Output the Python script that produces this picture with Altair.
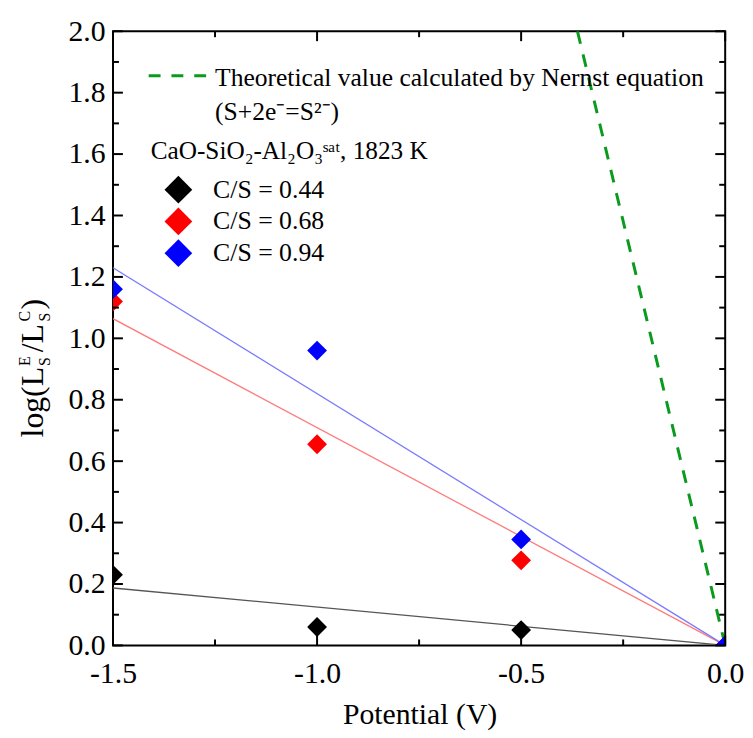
import altair as alt
import pandas as pd

# ---------------- data ----------------
potential = [-1.5, -1.0, -0.5, 0.0]
cs_044 = [0.23, 0.06, 0.05, 0.0]
cs_068 = [1.12, 0.655, 0.277, 0.0]
cs_094 = [1.16, 0.96, 0.345, 0.0]

fit_potential = [-1.5, 0.0]
fit_044 = [0.187, 0.0]
fit_068 = [1.064, 0.0]
fit_094 = [1.23, 0.0]

nernst_potential = [-0.362, 0.0]
nernst_value = [2.0, 0.0]

series_labels = ["C/S = 0.44", "C/S = 0.68", "C/S = 0.94"]
series_colors = ["#000000", "#ff0000", "#0000ff"]
fit_colors = ["#555555", "#ff7a7a", "#7a7aff"]

x_major = [-1.5, -1.0, -0.5, 0.0]
x_minor = [-1.25, -0.75, -0.25]
y_major = [0.0, 0.2, 0.4, 0.6, 0.8, 1.0, 1.2, 1.4, 1.6, 1.8, 2.0]
y_minor = [0.1, 0.3, 0.5, 0.7, 0.9, 1.1, 1.3, 1.5, 1.7, 1.9]

legend_title = "Theoretical value calculated by Nernst equation"
legend_reaction = "(S+2e\u207b=S\u00b2\u207b)"
legend_system = "CaO-SiO\u2082-Al\u2082O\u2083\u02e2\u1d43\u1d57, 1823 K"
x_title = "Potential (V)"

# ---------------- layout ----------------
FONT = "Liberation Serif"
W, H = 618, 620

xs = alt.Scale(domain=[-1.5, 0.0], nice=False, zero=False)
ys = alt.Scale(domain=[0.0, 2.0], nice=False, zero=False)

dummy = pd.DataFrame({"d": [0]})

x_axis = alt.Axis(values=x_major, format=".1f",
                  labelExpr="replace(datum.label, '\u2212', '-')",
                  labelFont=FONT, labelFontSize=30, labelColor="black",
                  labelPadding=13, ticks=False, domain=False, grid=False,
                  title=None, labelFlush=False, labelOverlap=False)
y_axis = alt.Axis(values=y_major, format=".1f",
                  labelFont=FONT, labelFontSize=30, labelColor="black",
                  labelPadding=8, ticks=False, domain=False, grid=False,
                  title=None, labelFlush=False, labelOverlap=False)


def X(field):
    return alt.X(field, scale=xs, axis=x_axis)


def Y(field):
    return alt.Y(field, scale=ys, axis=y_axis)


layers = []

# fitted lines
for fx, fy, col in [(fit_potential, fit_044, fit_colors[0]),
                    (fit_potential, fit_068, fit_colors[1]),
                    (fit_potential, fit_094, fit_colors[2])]:
    df = pd.DataFrame({"x": fx, "y": fy})
    layers.append(alt.Chart(df).mark_line(color=col, strokeWidth=1.3, clip=True).encode(
        x=X("x:Q"), y=Y("y:Q")))

# Nernst line
nd = pd.DataFrame({"x": nernst_potential, "y": nernst_value})
layers.append(alt.Chart(nd).mark_line(color="#0a9a1e", strokeWidth=3, strokeDash=[13, 11],
                                      clip=True).encode(x=X("x:Q"), y=Y("y:Q")))

# data points
for vals, col in [(cs_044, series_colors[0]), (cs_068, series_colors[1]), (cs_094, series_colors[2])]:
    df = pd.DataFrame({"x": potential, "y": vals})
    layers.append(alt.Chart(df).mark_point(shape="diamond", filled=True, size=400, opacity=1,
                                           color=col, clip=True).encode(x=X("x:Q"), y=Y("y:Q")))


# inward ticks (all four sides)
def ticks(vals, length, orient):
    df = pd.DataFrame({"v": vals})
    m = alt.Chart(df).mark_rule(color="black", strokeWidth=2)
    if orient == "bottom":
        return m.encode(x=X("v:Q"), y=alt.value(H), y2=alt.value(H - length))
    if orient == "top":
        return m.encode(x=X("v:Q"), y=alt.value(0), y2=alt.value(length))
    if orient == "left":
        return m.encode(y=Y("v:Q"), x=alt.value(0), x2=alt.value(length))
    return m.encode(y=Y("v:Q"), x=alt.value(W), x2=alt.value(W - length))


for o in ["bottom", "top"]:
    layers.append(ticks(x_major, 10, o))
    layers.append(ticks(x_minor, 6, o))
for o in ["left", "right"]:
    layers.append(ticks(y_major, 10, o))
    layers.append(ticks(y_minor, 6, o))


def text(txt, x, y, size, angle=0, align="left", baseline="alphabetic"):
    return alt.Chart(dummy).mark_text(text=txt, font=FONT, fontSize=size, angle=angle,
                                      align=align, baseline=baseline, color="black").encode(
        x=alt.value(x), y=alt.value(y))


# legend
layers.append(alt.Chart(dummy).mark_rule(color="#0a9a1e", strokeWidth=3, strokeDash=[12, 11]).encode(
    x=alt.value(36), x2=alt.value(94), y=alt.value(45)))
layers.append(text(legend_title, 103, 55, 25.8))
layers.append(text(legend_reaction, 103, 90, 25.8))
layers.append(text(legend_system, 38, 129, 25.5))
for i, (lab, col) in enumerate(zip(series_labels, series_colors)):
    yy = 160 + 32 * i
    layers.append(alt.Chart(dummy).mark_point(shape="diamond", filled=True, size=784, opacity=1,
                                              color=col).encode(x=alt.value(66), y=alt.value(yy)))
    layers.append(text(lab, 101, yy, 26, baseline="middle"))

# axis titles
layers.append(text(x_title, 310, 699, 30, align="center"))
layers.append(text("log(L", -71, 410, 32, angle=270))
layers.append(text("S", -64, 338, 16, angle=270))
layers.append(text("E", -84, 338, 16, angle=270))
layers.append(text("/L", -71, 324, 32, angle=270))
layers.append(text("S", -64, 293, 16, angle=270))
layers.append(text("C", -84, 293, 16, angle=270))
layers.append(text(")", -71, 281, 32, angle=270))

chart = alt.layer(*layers).properties(
    width=W, height=H,
    padding={"left": 106, "top": 20, "right": 20, "bottom": 90},
    autosize=alt.AutoSizeParams(type="none"),
    background="white",
).configure_view(stroke="black", strokeWidth=2)

chart.save("out.html", embed_options={"renderer": "svg", "actions": False})
